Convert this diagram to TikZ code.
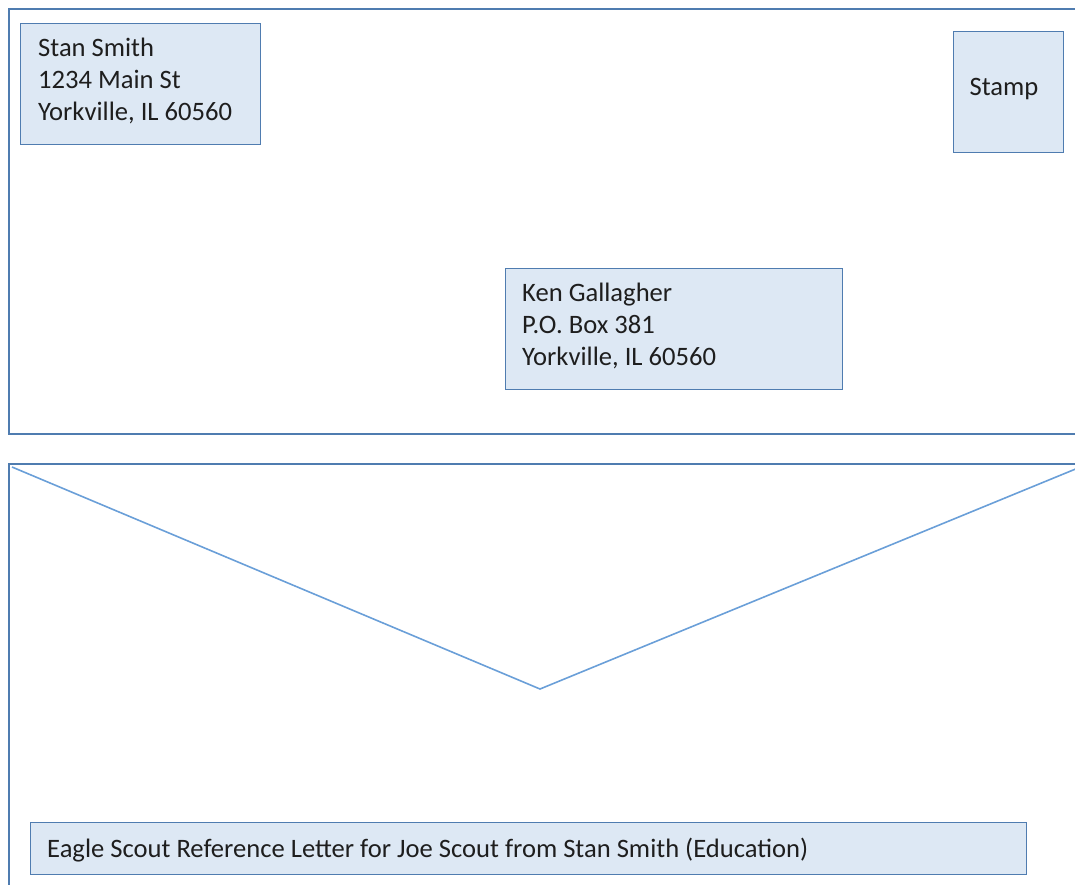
\documentclass[tikz,border=0pt]{standalone}
\usepackage{fontspec}
\setmainfont{Carlito}
\definecolor{edge}{HTML}{4F7CB0}
\definecolor{boxfill}{HTML}{DDE8F4}
\definecolor{flap}{HTML}{6A9FD8}
\definecolor{ink}{HTML}{1E1E1E}
\begin{document}
\begin{tikzpicture}[x=1pt,y=-1pt,
  env/.style={draw=edge,line width=1.8pt},
  addrbox/.style={draw=edge,fill=boxfill,line width=1.8pt,anchor=north west,inner sep=0pt},
  txt/.style={text=ink,align=left,inner sep=0pt,font=\fontsize{26.6}{32.3}\selectfont},
  flapline/.style={draw=flap,line width=1.6pt}]
\useasboundingbox (0,0) rectangle (1075,884);
\clip (0,0) rectangle (1075,884);
% front of envelope
\draw[env] (9,9) rectangle (1090,434);
\node[addrbox,minimum width=240pt,minimum height=121pt] (ret) at (19.5,22.5) {};
\node[txt,anchor=west] (rett) at (38,81) {Stan Smith\\1234 Main St\\Yorkville, IL 60560};
\node[addrbox,minimum width=110pt,minimum height=121pt] (stamp) at (952.5,30.5) {};
\node[txt] (stampt) at (1004,89) {Stamp};
\node[addrbox,minimum width=337pt,minimum height=121pt] (to) at (504.5,267.5) {};
\node[txt,anchor=west] (tot) at (522,326) {Ken Gallagher\\P.O. Box 381\\Yorkville, IL 60560};
% back of envelope
\draw[env] (9,464) rectangle (1090,900);
\coordinate (fl) at (12,467);
\coordinate (tip) at (540,689);
\coordinate (fr) at (1078,468);
\draw[flapline] (fl) -- (tip) -- (fr);
\node[addrbox,minimum width=996pt,minimum height=52pt] (subj) at (29.5,821.5) {};
\node[txt,anchor=west] (subjt) at (47,850) {Eagle Scout Reference Letter for Joe Scout from Stan Smith (Education)};
\end{tikzpicture}
\end{document}
